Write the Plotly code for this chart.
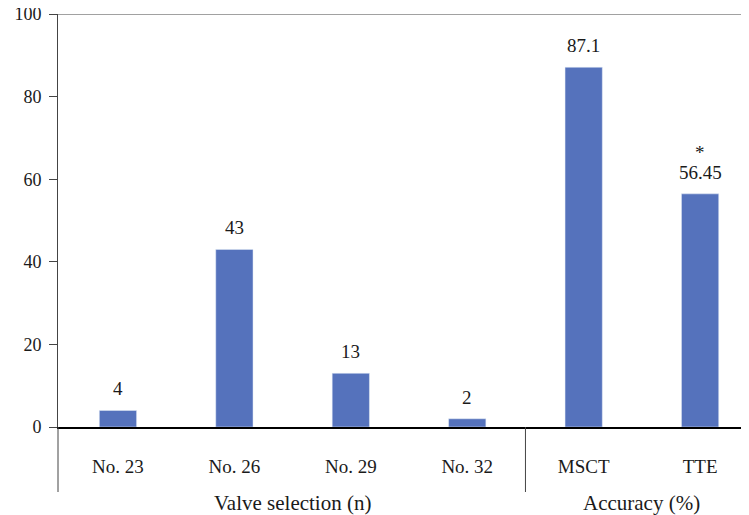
import plotly.graph_objects as go

categories = ["No. 23", "No. 26", "No. 29", "No. 32", "MSCT", "TTE"]
values = [4, 43, 13, 2, 87.1, 56.45]
marks = ["", "", "", "", "", "*"]
groups = ["Valve selection (n)", "Accuracy (%)"]
group_sizes = [4, 2]
y_ticks = [0, 20, 40, 60, 80, 100]

FONT = "Times New Roman, Liberation Serif, DejaVu Serif, serif"
BLUE = "#5572bc"
TXT = "#1a1a1a"

W, H = 741, 507          # page body adds an 8px offset
M_L, M_T, M_B = 50, 6, 88
plot_h = H - M_T - M_B

fig = go.Figure()
fig.add_trace(go.Bar(x=categories, y=values, marker_color=BLUE, width=0.32,
                     hoverinfo="x+y"))

# value labels
for c, v, m in zip(categories, values, marks):
    fig.add_annotation(x=c, y=v, text=f"{v:g}", showarrow=False, xref="x", yref="y",
                       yanchor="bottom", yshift=9,
                       font=dict(family=FONT, size=19, color=TXT))
    if m:
        fig.add_annotation(x=c, y=v, text=m, showarrow=False, xref="x", yref="y",
                           yanchor="bottom", yshift=29,
                           font=dict(family=FONT, size=19, color=TXT))

# group labels and dividers
pos = -0.5
for g, n in zip(groups, group_sizes):
    fig.add_annotation(x=pos + n / 2, y=0, xref="x", yref="paper", text=g,
                       showarrow=False, yanchor="middle", yshift=-76,
                       font=dict(family=FONT, size=21, color=TXT))
    pos += n
    if pos < len(categories) - 0.5:
        fig.add_shape(type="line", xref="x", yref="paper", x0=pos, x1=pos,
                      y0=0, y1=-65 / plot_h, line=dict(color="#444", width=1))

# y-axis extension below the plot
fig.add_shape(type="line", xref="paper", yref="paper", x0=0, x1=0,
              y0=0, y1=-65 / plot_h, line=dict(color="#444", width=1))
# top line at 100
fig.add_shape(type="line", xref="paper", yref="y", x0=0, x1=1, y0=100, y1=100,
              line=dict(color="#444", width=1))

fig.update_layout(
    width=W, height=H,
    margin=dict(l=M_L, r=0, t=M_T, b=M_B),
    plot_bgcolor="white", paper_bgcolor="white",
    showlegend=False,
    font=dict(family=FONT, size=19, color=TXT),
    xaxis=dict(type="category", range=[-0.515, 5.42], showline=True,
               linecolor="black", linewidth=2, ticks="", showgrid=False,
               automargin=False,
               ticklabelstandoff=21, tickfont=dict(family=FONT, size=19)),
    yaxis=dict(range=[0, 100.001], tickvals=y_ticks, showline=True,
               linecolor="#444", linewidth=1, ticks="outside", ticklen=8,
               tickcolor="#444", showgrid=False, zeroline=False,
               automargin=False, ticklabeloverflow="allow",
               ticklabelstandoff=4, tickfont=dict(family=FONT, size=18)),
)

fig.write_html("out.html")
